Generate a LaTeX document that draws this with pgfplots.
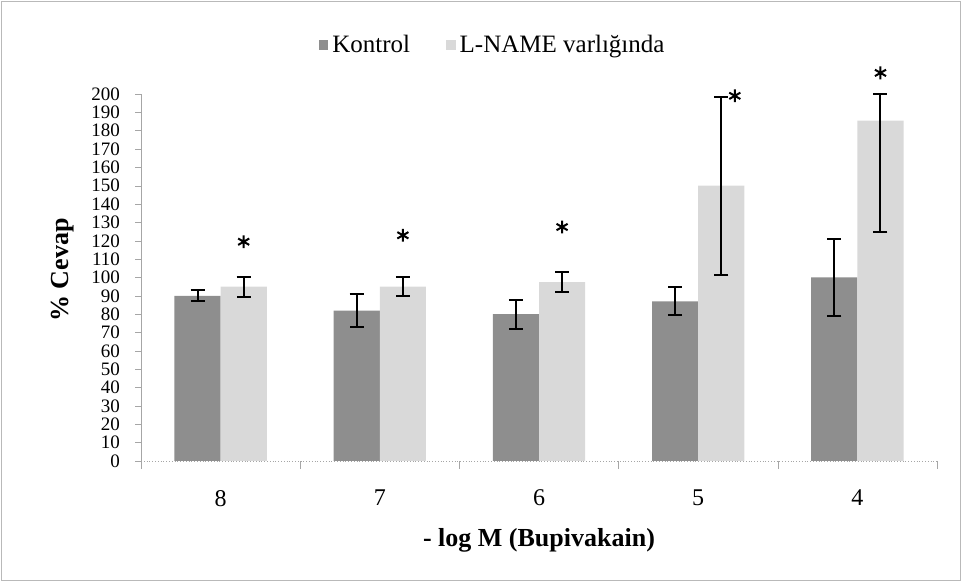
\documentclass[border=0pt]{standalone}
\usepackage{pgfplots}
\pgfplotsset{compat=1.18}
\usepackage{pgfplotstable}
\usepackage{fontspec}
\setmainfont{Liberation Serif}

\definecolor{darkbar}{HTML}{8E8E8E}
\definecolor{lightbar}{HTML}{D9D9D9}

% category 8,7,6,5,4 at 0..4; bars sit left/right of the category centre
\pgfplotstableread{
x y e
-0.145 90 3
0.855 82 9
1.855 80 8
2.855 87 7.7
3.855 100 21
}\kontrol

\pgfplotstableread{
x y ep em
0.145 95 5.5 5.5
1.145 95 5 5
2.145 97.5 5.5 5.5
3.145 150 48.6 48.6
4.145 185.5 14.5 60.5
}\lname

% significance stars
\pgfplotstableread{
x y
0.145 119.5
1.145 123
2.145 127.5
3.23 199
4.145 211.5
}\stars

\begin{document}
\begin{tikzpicture}
\path[use as bounding box] (0,0) rectangle (481pt,291pt);
\draw[gray!55, line width=0.6pt] (0.8pt,0.8pt) rectangle (480.2pt,290.2pt);
\begin{axis}[
  at={(70.5pt,60.5pt)}, anchor=south west,
  scale only axis, width=398pt, height=183.5pt,
  xmin=-0.5, xmax=4.5, ymin=0, ymax=200,
  axis lines*=left,
  axis line style={gray!70},
  x axis line style={densely dotted},
  xtick={0,...,4}, xticklabels={8,7,6,5,4},
  major x tick style={draw=none},
  minor xtick={-0.5,0.5,...,4.5},
  minor x tick style={gray!70},
  ytick={0,10,...,200},
  y tick style={gray!70},
  tick align=outside,
  major tick length=3pt, minor tick length=4pt,
  /pgf/number format/assume math mode=true,
  y tick label style={font=\fontsize{9.5pt}{10pt}\selectfont, inner ysep=0pt, xshift=-4pt},
  x tick label style={font=\fontsize{12pt}{12pt}\selectfont, yshift=-8pt},
  xlabel={- log M (Bupivakain)},
  ylabel={\% Cevap},
  every axis x label/.style={at={(axis description cs:0.5,-0.215)}, anchor=center,
    font=\fontsize{13pt}{14pt}\selectfont\bfseries},
  every axis y label/.style={at={(axis description cs:-0.099,0.52)}, rotate=90, anchor=center,
    font=\fontsize{13pt}{14pt}\selectfont\bfseries},
  legend style={at={(axis description cs:0.443,1.133)}, anchor=center, draw=none,
    legend columns=2, font=\fontsize{12.5pt}{13pt}\selectfont,
    /tikz/every even column/.append style={column sep=16pt}},
  legend cell align=left,
  clip=false,
]
\addplot[ybar, bar width=0.29, bar shift=0pt, fill=darkbar, draw=none,
  legend image code/.code={\fill[darkbar] (0pt,-2.4pt) rectangle (4.8pt,2.4pt);},
  error bars/.cd, y dir=both, y explicit,
  error bar style={black, line width=1pt},
  error mark options={rotate=90, mark size=3.5pt, line width=1pt, black},
  ] table[x=x, y=y, y error=e] {\kontrol};
\addlegendentry{Kontrol}
\addplot[ybar, bar width=0.29, bar shift=0pt, fill=lightbar, draw=none,
  legend image code/.code={\fill[lightbar] (0pt,-2.4pt) rectangle (4.8pt,2.4pt);},
  error bars/.cd, y dir=both, y explicit,
  error bar style={black, line width=1pt},
  error mark options={rotate=90, mark size=3.5pt, line width=1pt, black},
  ] table[x=x, y=y, y error plus=ep, y error minus=em] {\lname};
\addlegendentry{L-NAME varlığında}
\addplot[only marks, mark=asterisk, mark size=3.2pt, black, line width=1pt, forget plot]
  table[x=x, y=y] {\stars};
\end{axis}
\end{tikzpicture}
\end{document}
